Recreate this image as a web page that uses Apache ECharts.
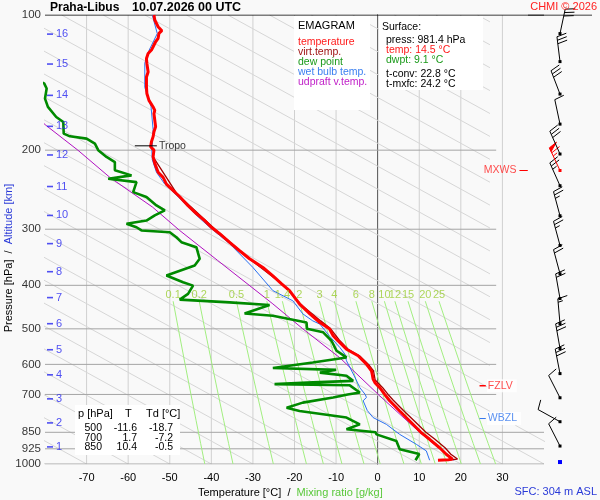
<!DOCTYPE html>
<html>
<head>
<meta charset="utf-8">
<script src="https://cdn.jsdelivr.net/npm/echarts@6/dist/echarts.min.js"></script>
<style>
html, body { margin: 0; padding: 0; background: #f9f9f9; }
#chart { width: 600px; height: 500px; }
</style>
</head>
<body>
<div id="chart"></div>
<script>
const FONT = '"Liberation Sans", Arial, sans-serif';

// sounding profiles, surface upward: pressure [hPa] / value [°C]
const tempP = [981, 978, 975, 951, 920, 881, 850, 844, 802, 762, 723, 700, 676, 660, 647, 632, 620, 599, 574, 555,
  532, 518, 500, 484, 463, 440, 411, 397, 381, 365, 349, 335, 321, 307, 297, 287, 277, 266, 254, 244,
  238, 230, 224, 214, 207, 200, 196.5, 191.5, 186.6, 181.9, 177.3, 171.5, 165.9, 163.1, 160.3, 154.9, 149.6, 144.6, 137.4, 133.9,
  128.2, 125, 121.8, 119.7, 117.7, 114.7, 112.7, 109.9, 108.4, 106.2, 102.6, 100];
const tempT = [14.5, 17.0, 18.0, 16.5, 14.9, 12.5, 10.4, 10.1, 7.7, 5.3, 2.9, 1.7, 0.5, -0.6, -1.1, -1.3, -1.5, -2.7, -4.7, -7.5,
  -9.5, -10.7, -11.6, -13.9, -16.3, -18.8, -21.2, -23.1, -25.2, -27.6, -30.8, -33.2, -35.6, -38.0, -40.0, -41.6, -43.6, -45.6, -47.6, -49.6,
  -50.8, -51.6, -52.8, -53.6, -54.0, -53.8, -54.6, -54.4, -54.0, -53.8, -53.4, -53.6, -53.8, -53.6, -54.0, -55.0, -55.5, -55.6, -55.6, -55.2,
  -55.5, -55.6, -55.2, -54.4, -54.0, -53.4, -52.8, -52.6, -51.9, -52.8, -53.6, -53.8];

const virtP = [981, 975, 951, 920, 880, 850, 800, 760, 720, 700, 676, 650, 620, 600, 575, 555, 530, 500, 480, 440, 400, 350, 300, 250, 207];
const virtT = [16.2, 19.2, 17.6, 16.2, 13.7, 11.6, 8.7, 6.2, 3.7, 2.5, 1.2, -0.6, -1.0, -2.2, -4.3, -7.1, -9.2, -11.3, -13.7, -18.6, -22.6, -30.7, -39.1, -48.3, -54.0];

const dewP = [981, 950, 927, 889, 859, 850, 837, 816, 788, 762, 749, 730, 711, 700, 693, 668, 664, 658, 653, 636,
  626, 617, 611, 605, 594, 579, 559.5, 531.5, 509, 500, 484, 467.5, 462, 442.5, 436.5, 430.5, 418, 400.6, 393.9, 380.5,
  361.4, 349.2, 329, 320.6, 312.6, 304.6, 301.9, 297, 291.7, 286.9, 279.5, 272.4, 265.6, 254.4, 248, 235.6, 231.5, 227.6, 221.8, 212.6,
  207.1, 200, 193.4, 188.5, 186.3, 183.7, 173.1, 168.7, 160.2, 153.5, 145.8, 142, 139];
const dewT = [9.1, 10.0, 5.3, 4.5, -0.3, -0.5, -7.5, -4.3, -7.5, -18.8, -21.9, -18.0, -10.7, -7.2, -4.3, -6.7, -24.8, -15.6, -5.9, -7.5,
  -13.9, -10.0, -25.2, -25.0, -15.6, -7.5, -9.9, -11.1, -13.1, -17.0, -17.1, -25.2, -32.0, -26.0, -35.6, -47.6, -45.6, -44.4, -46.8, -50.8,
  -44.0, -42.8, -43.6, -47.2, -48.4, -50.0, -56.8, -58.0, -60.4, -55.6, -53.6, -51.2, -53.2, -55.6, -58.8, -58.0, -64.8, -59.2, -63.2, -63.2,
  -65.2, -67.2, -68.0, -70.0, -74.0, -75.5, -75.6, -77.3, -79.3, -80.0, -79.6, -80.2, -83];

const wbP = [981, 935, 904, 859, 816, 788, 760, 723, 711, 700, 676, 640, 589, 569, 550, 520, 488, 480, 463, 433,
  411, 365, 323, 297, 277, 254, 238, 224, 210, 200, 180, 160, 145, 128, 120, 110, 100];
const wbT = [12.5, 11.7, 9.3, 5.3, 2.1, -1.1, -2.5, -3.5, -2.7, -3.0, -4.3, -5.5, -7.5, -7.9, -9.1, -11.5, -13.9, -15.6, -18.0, -20.4,
  -25.2, -30.0, -35.6, -40.4, -44.0, -48.0, -51.2, -53.2, -54.2, -54.3, -54.0, -54.5, -56.0, -56.0, -55.0, -53.0, -54.2];

const updP = [981, 975, 850, 705, 580, 500, 440, 352, 302, 268, 230, 200, 176, 172];
const updT = [18.3, 18.0, 10.1, 0.5, -9.1, -18.0, -25.2, -38.5, -47.6, -54.1, -64.4, -72.1, -79.8, -81];

// winds (surface upward)
const windP = [990, 912, 805, 712, 629, 553, 487, 428, 377, 326, 280, 240, 222, 204, 175, 150, 127, 110];
const windDir = [0, 333, 299, 333, 349, 350, 355, 350, 345, 345, 345, 336, 335, 336, 348, 339, 353, 12];
const windSpd = [0, 10, 10, 10, 30, 30, 15, 20, 20, 25, 25, 25, 65, 30, 10, 30, 30, 30];
const mxwsP = 222;

// axes and reference lines
const pressTicks = [100, 200, 300, 400, 500, 600, 700, 850, 925, 1000];
const isothermT = [-70, -60, -50, -40, -30, -20, -10, 0, 10, 20, 30];
const kmNum = [1, 2, 3, 4, 5, 6, 7, 8, 9, 10, 11, 12, 13, 14, 15, 16];
const kmP = [916, 810, 716, 633, 556.6, 487, 426, 373, 323, 279.5, 241, 205, 177, 151, 128.6, 110.3];
const mixW = [0.1, 0.2, 0.5, 1, 1.4, 2, 3, 4, 6, 8, 10, 12, 15, 20, 25];
const mixTopP = 434, mixLabelP = 421;

// levels: tropopause, max wind, freezing level, wet bulb zero
const tropoP = 195.6, fzlvP = 669.6, wbzlP = 792;

// surface values and table
const sfcPress = 981.4, sfcTemp = 14.5, sfcDwpt = 9.1, tConv = 22.8, tMxfc = 24.2, sfcHeight = 304;
const tabP = [500, 700, 850];
const tabT = [-11.6, 1.7, 10.4];
const tabTd = [-18.7, -7.2, -0.5];

function zip(ps, ts) { return ps.map((p, i) => [ts[i], p]); }

function line(data, color, width, extra) {
  return Object.assign({
    type: 'line', data: data, symbol: 'none', silent: true, animation: false,
    lineStyle: { color: color, width: width }, z: 2
  }, extra || {});
}

// dewpoint of a mixing ratio line
function mixTd(w, p) {
  const e = w * p / (622 + w);
  const l = Math.log(e / 6.112);
  return 243.5 * l / (17.67 - l);
}

function labels(data, color, size, pos, dist, fmt, extra) {
  return Object.assign({
    type: 'scatter', data: data, symbolSize: 0.1, silent: true, animation: false,
    itemStyle: { color: 'rgba(0,0,0,0)' }, z: 5,
    label: { show: true, position: pos, distance: dist, color: color, fontSize: size, fontFamily: FONT, formatter: fmt }
  }, extra || {});
}

const series = [];

// isotherms
isothermT.forEach(t => series.push(line([[t, 100], [t, 1000]], t === 0 ? '#7a7a7a' : '#d0d0d0', 1)));

// dry adiabats (straight in this diagram)
for (let t0 = -80; t0 <= 230; t0 += 10) {
  const tAt = p => t0 + 196 * Math.log10(p / 1000);
  const p27 = 1000 * Math.pow(10, (27 - t0) / 196);
  if (p27 >= 820) {
    series.push(line([[tAt(100), 100], [tAt(1000), 1000]], '#d6d6d6', 1));
  } else {
    if (p27 > 100) series.push(line([[tAt(100), 100], [27, p27]], '#d6d6d6', 1));
    series.push(line([[tAt(820), 820], [tAt(1000), 1000]], '#d6d6d6', 1));
  }
}

// isobars
pressTicks.slice(1).forEach(p => series.push(line([[-80, p], [p >= 850 ? 40 : 28.5, p]], '#a4a4a4', 1)));
series.push(line([[-80, 100], [40, 100]], '#000', 1));

// mixing ratio lines
mixW.forEach(w => {
  const pts = [mixTopP, 500, 600, 700, 800, 900, 1000].map(p => [mixTd(w, p), p]);
  series.push(line(pts, '#a2ee80', 1));
});
series.push(labels(mixW.map(w => [mixTd(w, mixTopP), mixLabelP, w]), '#9acd32', 11, 'inside', 0,
  p => String(p.value[2])));

// profiles
series.push(line(zip(updP, updT), '#b010c0', 1, { z: 3 }));
series.push(line(zip(wbP, wbT), '#2a6ff0', 1, { z: 3 }));
series.push(line(zip(dewP, dewT), '#008a00', 2.6, { z: 4 }));
series.push(line(zip(virtP, virtT), '#a00000', 1.3, { z: 4 }));
series.push(line(zip(tempP, tempT), '#ff0000', 3, { z: 5 }));

// pressure labels and altitude ticks
series.push(labels(pressTicks.map(p => [-80, p]), '#000', 11.5, 'left', 4, p => String(p.value[1])));
series.push({
  type: 'scatter', silent: true, animation: false, z: 6,
  data: kmP.map((p, i) => [-80, p, kmNum[i]]),
  symbol: 'rect', symbolSize: [6, 1.6], symbolOffset: [5, 0],
  itemStyle: { color: '#2424f0' },
  label: { show: true, position: 'right', distance: 3, color: '#2424f0', fontSize: 11, fontFamily: FONT,
    formatter: p => String(p.value[2]) }
});

// level annotations
series.push(line([[-58.4, tropoP], [-53.1, tropoP]], '#000', 1, { z: 6 }));
series.push(labels([[-53.1, tropoP]], '#000', 10.5, 'right', 2, 'Tropo'));
series.push(line([[34.1, mxwsP], [36.1, mxwsP]], '#ff0000', 1, { z: 6 }));
series.push(labels([[34.1, mxwsP]], '#ff2020', 10.5, 'left', 3, 'MXWS'));
series.push(line([[24.5, fzlvP], [26.0, fzlvP]], '#ff0000', 1.4, { z: 7 }));
series.push(labels([[26.0, fzlvP]], '#ff2020', 10.5, 'right', 1, 'FZLV',
  { label: { show: true, position: 'right', distance: 1, color: '#ff2020', fontSize: 10.5, fontFamily: FONT,
    backgroundColor: '#fff', padding: [1, 4, 1, 1], formatter: 'FZLV' } }));
series.push(line([[24.5, wbzlP], [26.0, wbzlP]], '#3377ee', 1, { z: 7 }));
series.push(labels([[26.0, wbzlP]], '#3377ee', 10.5, 'right', 1, 'WBZL',
  { label: { show: true, position: 'right', distance: 1, color: '#3377ee', fontSize: 10.5, fontFamily: FONT,
    backgroundColor: '#fff', padding: [1, 4, 1, 1], formatter: 'WBZL' } }));

// wind column
series.push(line([[-1, 100], [1, 100]], '#000', 1, { xAxisIndex: 1, yAxisIndex: 1 }));
series.push({
  type: 'custom', xAxisIndex: 1, yAxisIndex: 1, silent: true, animation: false, clip: false, z: 8,
  data: windP.map((p, i) => [0, p, windDir[i], windSpd[i], p === mxwsP ? 1 : 0]),
  renderItem: function (params, api) {
    const pt = api.coord([0, api.value(1)]);
    const dir = api.value(2), spd = api.value(3);
    const col = api.value(4) ? '#ff0000' : '#000';
    const kids = [];
    if (spd === 0) {
      kids.push({ type: 'rect', shape: { x: pt[0] - 2, y: pt[1] - 2, width: 4, height: 4 }, style: { fill: '#0000ff' } });
      return { type: 'group', children: kids };
    }
    const a = dir * Math.PI / 180;
    const ux = Math.sin(a), uy = -Math.cos(a);
    let bx = -uy + 0.25 * ux, by = ux + 0.25 * uy;
    const bl = Math.hypot(bx, by); bx /= bl; by /= bl;
    const L = 25;
    const tip = [pt[0] + ux * L, pt[1] + uy * L];
    const at = d => [tip[0] - ux * d, tip[1] - uy * d];
    kids.push({ type: 'line', shape: { x1: pt[0], y1: pt[1], x2: tip[0], y2: tip[1] }, style: { stroke: col, lineWidth: 1 } });
    let s = Math.round(spd / 5) * 5, pos = 0;
    while (s >= 50) {
      const b0 = at(pos), b1 = at(pos + 4);
      kids.push({ type: 'polygon', shape: { points: [b0, [b0[0] + bx * 9, b0[1] + by * 9], b1] }, style: { fill: col, stroke: col } });
      pos += 5.5; s -= 50;
    }
    while (s >= 10) {
      const b0 = at(pos);
      kids.push({ type: 'line', shape: { x1: b0[0], y1: b0[1], x2: b0[0] + bx * 10, y2: b0[1] + by * 10 }, style: { stroke: col, lineWidth: 1 } });
      pos += 3.5; s -= 10;
    }
    if (s >= 5) {
      if (pos === 0) pos = 3.5;
      const b0 = at(pos);
      kids.push({ type: 'line', shape: { x1: b0[0], y1: b0[1], x2: b0[0] + bx * 5, y2: b0[1] + by * 5 }, style: { stroke: col, lineWidth: 1 } });
    }
    kids.push({ type: 'rect', shape: { x: pt[0] - 1.5, y: pt[1] - 1.5, width: 3, height: 3 }, style: { fill: col } });
    return { type: 'group', children: kids };
  }
});

function txt(x, y, text, color, size, extra) {
  return Object.assign({
    type: 'text', x: x, y: y, z: 101, silent: true,
    style: Object.assign({ text: text, fill: color, font: size + 'px ' + FONT, textVerticalAlign: 'middle', verticalAlign: 'middle' },
      extra || {})
  });
}

const graphics = [
  { type: 'rect', shape: { x: 294, y: 16, width: 76, height: 94 }, style: { fill: '#fff' }, z: 100, silent: true },
  { type: 'rect', shape: { x: 379, y: 16, width: 104, height: 74 }, style: { fill: '#fff' }, z: 100, silent: true },
  { type: 'rect', shape: { x: 75, y: 405, width: 105, height: 50 }, style: { fill: '#fff' }, z: 100, silent: true },
  txt(50, 8, 'Praha-Libus', '#000', 12, { fontWeight: 'bold', font: 'bold 12.5px ' + FONT }),
  txt(132, 8, '10.07.2026 00 UTC', '#000', 12, { font: 'bold 12.5px ' + FONT }),
  txt(597, 7, 'CHMI \u00a9 2026', '#ff2020', 11, { textAlign: 'right' }),
  txt(298, 26, 'EMAGRAM', '#000', 11),
  txt(298, 42, 'temperature', '#ff1a1a', 10.5),
  txt(298, 52, 'virt.temp.', '#a01414', 10.5),
  txt(298, 62, 'dew point', '#1a9a1a', 10.5),
  txt(298, 72, 'wet bulb temp.', '#3a7ff0', 10.5),
  txt(298, 82, 'udpraft v.temp.', '#c020c8', 10.5),
  txt(382, 27, 'Surface:', '#000', 10.5),
  txt(386, 40, 'press: ' + sfcPress.toFixed(1) + ' hPa', '#000', 10.5),
  txt(386, 50, 'temp: ' + sfcTemp.toFixed(1) + ' \u00b0C', '#ff1a1a', 10.5),
  txt(386, 60, 'dwpt: ' + sfcDwpt.toFixed(1) + ' \u00b0C', '#1a9a1a', 10.5),
  txt(386, 74, 't-conv: ' + tConv.toFixed(1) + ' \u00b0C', '#000', 10.5),
  txt(386, 84, 't-mxfc: ' + tMxfc.toFixed(1) + ' \u00b0C', '#000', 10.5),
  txt(78, 414, 'p [hPa]', '#000', 11),
  txt(125, 414, 'T', '#000', 11),
  txt(146, 414, 'Td [\u00b0C]', '#000', 11),
  txt(597, 492, 'SFC: ' + sfcHeight + ' m ASL', '#2a3ad8', 11, { textAlign: 'right' }),
  txt(198, 493, '{a|Temperature [\u00b0C]}  /  {b|Mixing ratio [g/kg]}', '#000', 11, {
    rich: { a: { fill: '#000', font: '11px ' + FONT }, b: { fill: '#5ac83a', font: '11px ' + FONT } }
  }),
  Object.assign(txt(9, 258, '{a|Pressure [hPa]}  /  {b|Altitude [km]}', '#000', 11, {
    textAlign: 'center',
    rich: { a: { fill: '#000', font: '11px ' + FONT }, b: { fill: '#2a3ad8', font: '11px ' + FONT } }
  }), { rotation: Math.PI / 2 })
];
tabP.forEach((p, i) => {
  const y = 428 + i * 9.7;
  graphics.push(txt(102, y, String(p), '#000', 10.5, { textAlign: 'right' }));
  graphics.push(txt(137, y, tabT[i].toFixed(1), '#000', 10.5, { textAlign: 'right' }));
  graphics.push(txt(173, y, tabTd[i].toFixed(1), '#000', 10.5, { textAlign: 'right' }));
});

const chart = echarts.init(document.getElementById('chart'));
chart.setOption({
  backgroundColor: '#f9f9f9',
  animation: false,
  grid: [
    { left: 45, top: 15, width: 499, height: 449, containLabel: false },
    { left: 528, top: 15, width: 64, height: 449, containLabel: false }
  ],
  xAxis: [
    {
      type: 'value', gridIndex: 0, min: -80, max: 40, interval: 10,
      axisLine: { show: false }, axisTick: { show: false }, splitLine: { show: false },
      axisLabel: { color: '#000', fontSize: 11, fontFamily: FONT, margin: 8,
        formatter: v => (v <= -80 || v >= 40) ? '' : String(v) }
    },
    { type: 'value', gridIndex: 1, min: -1, max: 1, show: false }
  ],
  yAxis: [
    {
      type: 'log', gridIndex: 0, min: 100, max: 1000, logBase: 10, inverse: true,
      axisLine: { show: true, lineStyle: { color: '#000', width: 1 } },
      axisTick: { show: false }, axisLabel: { show: false }, splitLine: { show: false }
    },
    { type: 'log', gridIndex: 1, min: 100, max: 1000, logBase: 10, inverse: true, show: false }
  ],
  series: series,
  graphic: graphics
});
window.addEventListener('resize', () => chart.resize());
</script>
</body>
</html>
